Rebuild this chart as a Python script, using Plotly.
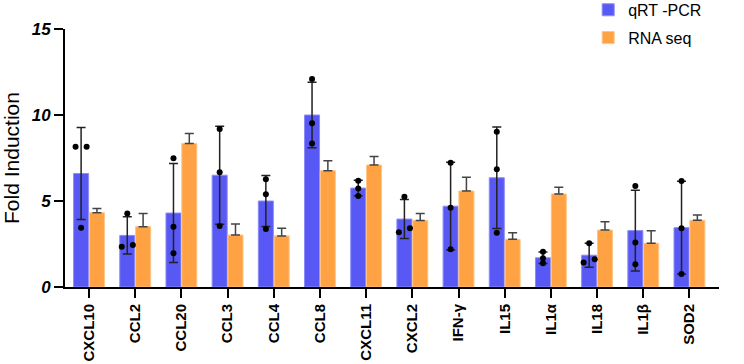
import plotly.graph_objects as go

categories = ["CXCL10", "CCL2", "CCL20", "CCL3", "CCL4", "CCL8", "CXCL11",
              "CXCL2", "IFN-γ", "IL15", "IL1α", "IL18", "IL1β", "SOD2"]

qpcr_mean = [6.6, 3.0, 4.3, 6.5, 5.0, 10.0, 5.75, 3.95, 4.7, 6.35, 1.7, 1.85, 3.28, 3.45]
qpcr_sd = [2.68, 1.08, 2.88, 2.85, 1.48, 1.9, 0.45, 1.13, 2.55, 2.95, 0.34, 0.7, 2.35, 2.7]

rna_mean = [4.32, 3.51, 8.35, 3.02, 2.97, 6.76, 7.09, 3.86, 5.58, 2.77, 5.41, 3.31, 2.54, 3.88]
rna_sd = [0.25, 0.77, 0.58, 0.64, 0.44, 0.58, 0.49, 0.42, 0.8, 0.39, 0.39, 0.49, 0.73, 0.31]

# qRT-PCR replicate points (three per gene) and horizontal jitter side (-1, 0, +1)
rep_a = [8.16, 4.28, 7.48, 9.19, 6.26, 12.1, 6.18, 5.25, 7.23, 9.03, 2.05, 2.54, 5.87, 6.16]
rep_b = [8.16, 2.34, 3.51, 6.67, 5.39, 9.52, 5.72, 3.18, 4.61, 6.84, 1.67, 1.43, 2.58, 3.41]
rep_c = [3.45, 2.44, 1.96, 3.55, 3.37, 8.35, 5.29, 3.41, 2.19, 3.16, 1.38, 1.61, 1.32, 0.76]
jit_a = [-1, 0, 0, 0, 0, 0, 0, 0, 0, 0, 0, 0, 0, 0]
jit_b = [1, -1, 0, 0, 0, 0, 0, -1, 0, 0, 0, -1, 0, 0]
jit_c = [0, 1, 0, 0, 0, 0, 0, 1, 0, 0, 0, 1, 0, 0]

BLUE = "#5858F4"
ORANGE = "#FFA243"
BARGAP = 0.315
BLUE_OFFSET = -(1 - BARGAP) / 4
JIT = 0.12

xs = list(range(len(categories)))

fig = go.Figure()
fig.add_trace(go.Bar(
    x=xs, y=qpcr_mean, name="qRT -PCR", legendgroup="a",
    marker=dict(color=BLUE, line=dict(color="#8C8CF8", width=1)),
    error_y=dict(type="data", array=qpcr_sd, visible=True,
                 color="#222222", thickness=1.5, width=4.5),
))
fig.add_trace(go.Bar(
    x=xs, y=rna_mean, name="RNA seq", legendgroup="b",
    marker=dict(color=ORANGE, line=dict(color="#FFC585", width=1)),
    error_y=dict(type="data", symmetric=False, array=rna_sd,
                 arrayminus=[0] * len(rna_sd), visible=True,
                 color="#444444", thickness=1.5, width=4.5),
))

px_all, py_all = [], []
for reps, jit in ((rep_a, jit_a), (rep_b, jit_b), (rep_c, jit_c)):
    for i, (v, j) in enumerate(zip(reps, jit)):
        px_all.append(i + BLUE_OFFSET + j * JIT)
        py_all.append(v)
fig.add_trace(go.Scatter(
    x=px_all, y=py_all, mode="markers", showlegend=False,
    marker=dict(color="black", size=6),
    hoverinfo="skip",
))

fig.update_layout(
    width=744, height=364,
    margin=dict(l=65, r=25, t=29, b=77, autoexpand=False),
    paper_bgcolor="white", plot_bgcolor="white",
    barmode="group", bargap=BARGAP, bargroupgap=0.05,
    font=dict(family="Liberation Sans, Arial, sans-serif", color="black"),
    legend=dict(x=0.80, y=1.14, xanchor="left", yanchor="top",
                font=dict(size=16), tracegroupgap=4,
                bgcolor="rgba(0,0,0,0)"),
    xaxis=dict(
        range=[-0.52, 13.64], tickmode="array", tickvals=xs, ticktext=categories,
        tickangle=-90, ticks="outside", ticklen=9, tickwidth=2, tickcolor="black",
        showline=True, linecolor="black", linewidth=2, showgrid=False,
        zeroline=False, automargin=False,
        tickfont=dict(size=15, weight="bold", color="black"),
    ),
    yaxis=dict(
        range=[0, 15], tickvals=[0, 5, 10, 15], ticks="outside", ticklen=9,
        tickwidth=2, tickcolor="black", showline=True, linecolor="black",
        linewidth=2, showgrid=False, zeroline=False, automargin=False,
        tickfont=dict(size=17, weight="bold", style="italic", color="black"),
        title=dict(text="Fold Induction", font=dict(size=21), standoff=6),
    ),
)

fig.write_html("out.html")
